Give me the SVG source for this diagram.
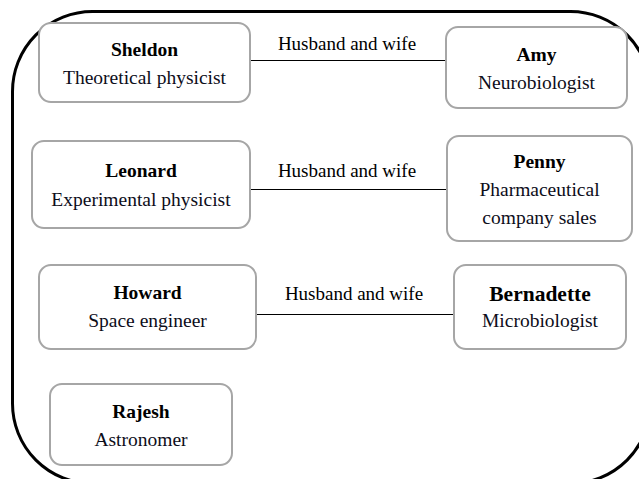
<svg xmlns="http://www.w3.org/2000/svg" width="639" height="479" viewBox="0 0 639 479">
<style>
.node{fill:#fff;stroke:#a6a6a6;stroke-width:2}
.t{font-family:"Liberation Serif","Times New Roman",serif;font-size:19.5px;fill:#000;text-anchor:middle}
.b{font-weight:bold}
.sub{fill:#0d0d1a}
.edge{stroke:#000;stroke-width:1;fill:none}
</style>
<rect x="0" y="0" width="639" height="479" fill="#fff"/>
<rect x="12.5" y="11.5" width="638" height="472" rx="80" ry="80" fill="none" stroke="#000" stroke-width="3"/>
<g id="connectors">
<line class="edge" x1="250" y1="60.5" x2="446" y2="60.5"/>
<line class="edge" x1="250" y1="189.5" x2="447" y2="189.5"/>
<line class="edge" x1="256" y1="314.5" x2="454" y2="314.5"/>
<text class="t" x="347" y="50" style="font-size:19px">Husband and wife</text>
<text class="t" x="347" y="177" style="font-size:19px">Husband and wife</text>
<text class="t" x="354" y="300" style="font-size:19px">Husband and wife</text>
</g>
<g id="sheldon">
<rect class="node" x="39" y="23" width="211" height="79" rx="12"/>
<text class="t b" x="144.5" y="56">Sheldon</text>
<text class="t sub" x="144.5" y="84">Theoretical physicist</text>
</g>
<g id="amy">
<rect class="node" x="446" y="27" width="181" height="81" rx="12"/>
<text class="t b" x="536.5" y="61">Amy</text>
<text class="t sub" x="536.5" y="89">Neurobiologist</text>
</g>
<g id="leonard">
<rect class="node" x="32" y="141" width="218" height="87" rx="12"/>
<text class="t b" x="141" y="177">Leonard</text>
<text class="t sub" x="141" y="206">Experimental physicist</text>
</g>
<g id="penny">
<rect class="node" x="447" y="136" width="185" height="105" rx="12"/>
<text class="t b" x="539.5" y="168">Penny</text>
<text class="t sub" x="539.5" y="196">Pharmaceutical</text>
<text class="t sub" x="539.5" y="224">company sales</text>
</g>
<g id="howard">
<rect class="node" x="39" y="265" width="217" height="84" rx="12"/>
<text class="t b" x="147.5" y="299">Howard</text>
<text class="t sub" x="147.5" y="327">Space engineer</text>
</g>
<g id="bernadette">
<rect class="node" x="454" y="265" width="172" height="84" rx="12"/>
<text class="t b" x="540" y="301" style="font-size:21.5px">Bernadette</text>
<text class="t sub" x="540" y="327">Microbiologist</text>
</g>
<g id="rajesh">
<rect class="node" x="50" y="384" width="182" height="81" rx="12"/>
<text class="t b" x="141" y="418">Rajesh</text>
<text class="t sub" x="141" y="446">Astronomer</text>
</g>
</svg>
